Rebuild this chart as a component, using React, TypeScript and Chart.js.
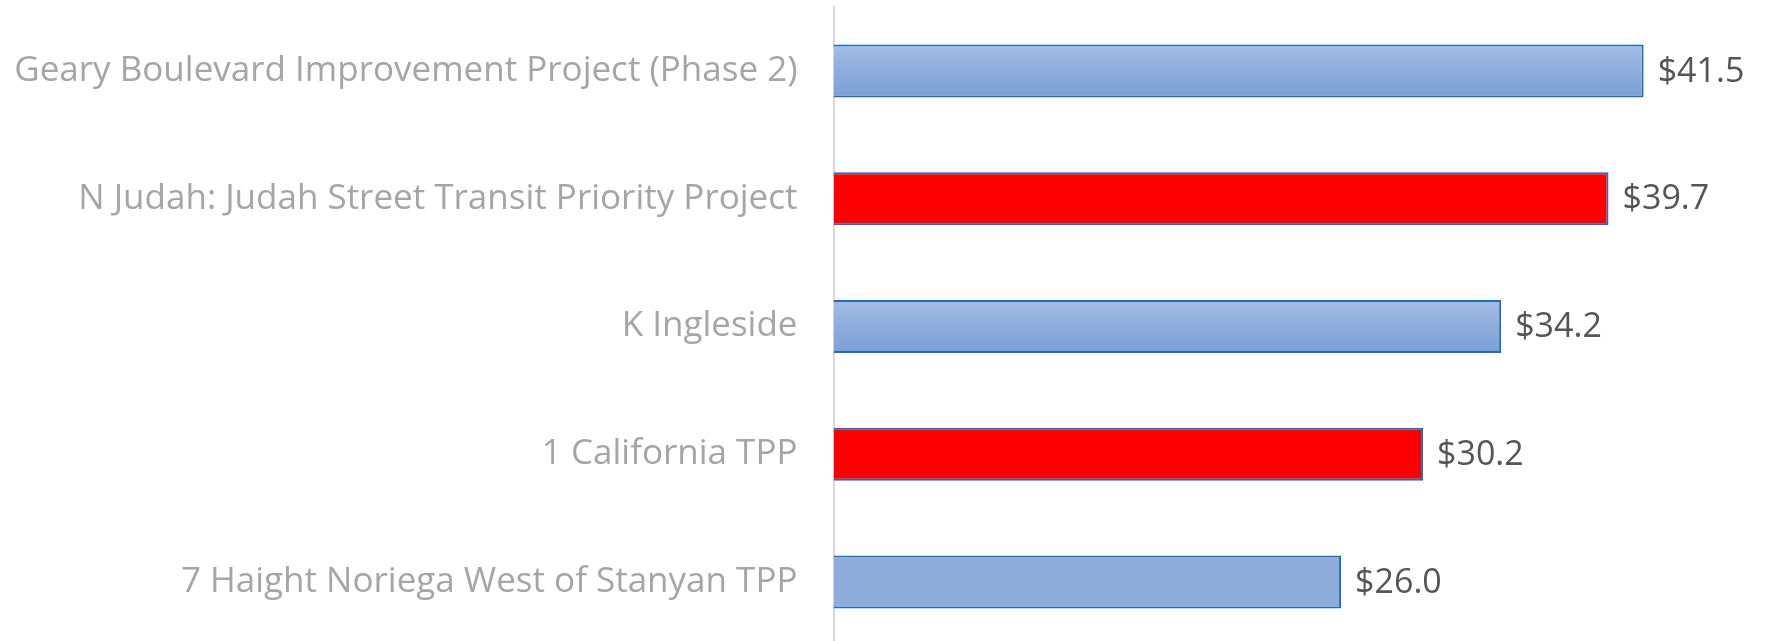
import React, { useEffect, useRef } from "react";
import { Chart, registerables } from "chart.js";

Chart.register(...registerables);

const categories: string[] = [
  "Geary Boulevard Improvement Project (Phase 2)",
  "N Judah: Judah Street Transit Priority Project",
  "K Ingleside",
  "1 California TPP",
  "7 Haight Noriega West of Stanyan TPP",
];

const values: number[] = [41.5, 39.7, 34.2, 30.2, 26.0];

const valueLabels: string[] = ["$41.5", "$39.7", "$34.2", "$30.2", "$26.0"];

// fill style per bar: "gradient" (blue shaded), "red", "flat" (plain blue)
const fillKinds: string[] = ["gradient", "red", "gradient", "red", "flat"];

const FONT = "'Open Sans', 'Noto Sans', sans-serif";

export default function App() {
  const canvasRef = useRef<HTMLCanvasElement | null>(null);

  useEffect(() => {
    if (!canvasRef.current) return;

    const valueLabelPlugin = {
      id: "valueLabels",
      afterDatasetsDraw(chart: any) {
        const ctx = chart.ctx;
        const meta = chart.getDatasetMeta(0);
        ctx.save();
        ctx.font = `34px ${FONT}`;
        ctx.fillStyle = "#555555";
        ctx.textAlign = "left";
        ctx.textBaseline = "middle";
        meta.data.forEach((el: any, i: number) => {
          ctx.fillText(valueLabels[i], el.x + 14, el.y + 1);
        });
        ctx.restore();
      },
    };

    const chart = new Chart(canvasRef.current, {
      type: "bar",
      data: {
        labels: categories,
        datasets: [
          {
            data: values,
            backgroundColor: (context: any) => {
              const i = context.dataIndex;
              const kind = fillKinds[i];
              if (kind === "red") return "#FF0000";
              if (kind === "flat") return "#8FADDB";
              const chartObj = context.chart;
              const yScale = chartObj.scales && chartObj.scales.y;
              if (!chartObj.chartArea || !yScale) return "#8FADDB";
              const cy = yScale.getPixelForValue(i);
              const half = 27;
              const g = chartObj.ctx.createLinearGradient(0, cy - half, 0, cy + half);
              g.addColorStop(0, "#A3BDE5");
              g.addColorStop(1, "#7A9ED6");
              return g;
            },
            borderColor: "#1A6FBF",
            borderWidth: 2,
            borderSkipped: "start",
            categoryPercentage: 1,
            barPercentage: 0.415,
          },
        ],
      },
      options: {
        indexAxis: "y",
        animation: false,
        responsive: false,
        maintainAspectRatio: false,
        devicePixelRatio: 1,
        layout: { padding: { top: 7, right: 0, bottom: 0, left: 0 } },
        plugins: {
          legend: { display: false },
          tooltip: { enabled: false },
          title: { display: false },
        },
        scales: {
          x: {
            display: false,
            min: 0,
            max: 47.87,
          },
          y: {
            afterFit: (scale: any) => {
              scale.width = 833.5;
              scale.paddingTop = 0;
              scale.paddingBottom = 0;
            },
            grid: { display: false, drawTicks: false },
            border: { display: true, color: "#D9D9D9", width: 2 },
            ticks: {
              padding: 36,
              color: "#A5A5A5",
              font: { family: FONT, size: 35 },
            },
          },
        },
      },
      plugins: [valueLabelPlugin],
    });

    return () => chart.destroy();
  }, []);

  return (
    <div style={{ position: "fixed", left: 0, top: 0, width: 1768, height: 646, background: "#fff" }}>
      <canvas ref={canvasRef} width={1768} height={646} style={{ width: 1768, height: 646, display: "block" }} />
    </div>
  );
}
